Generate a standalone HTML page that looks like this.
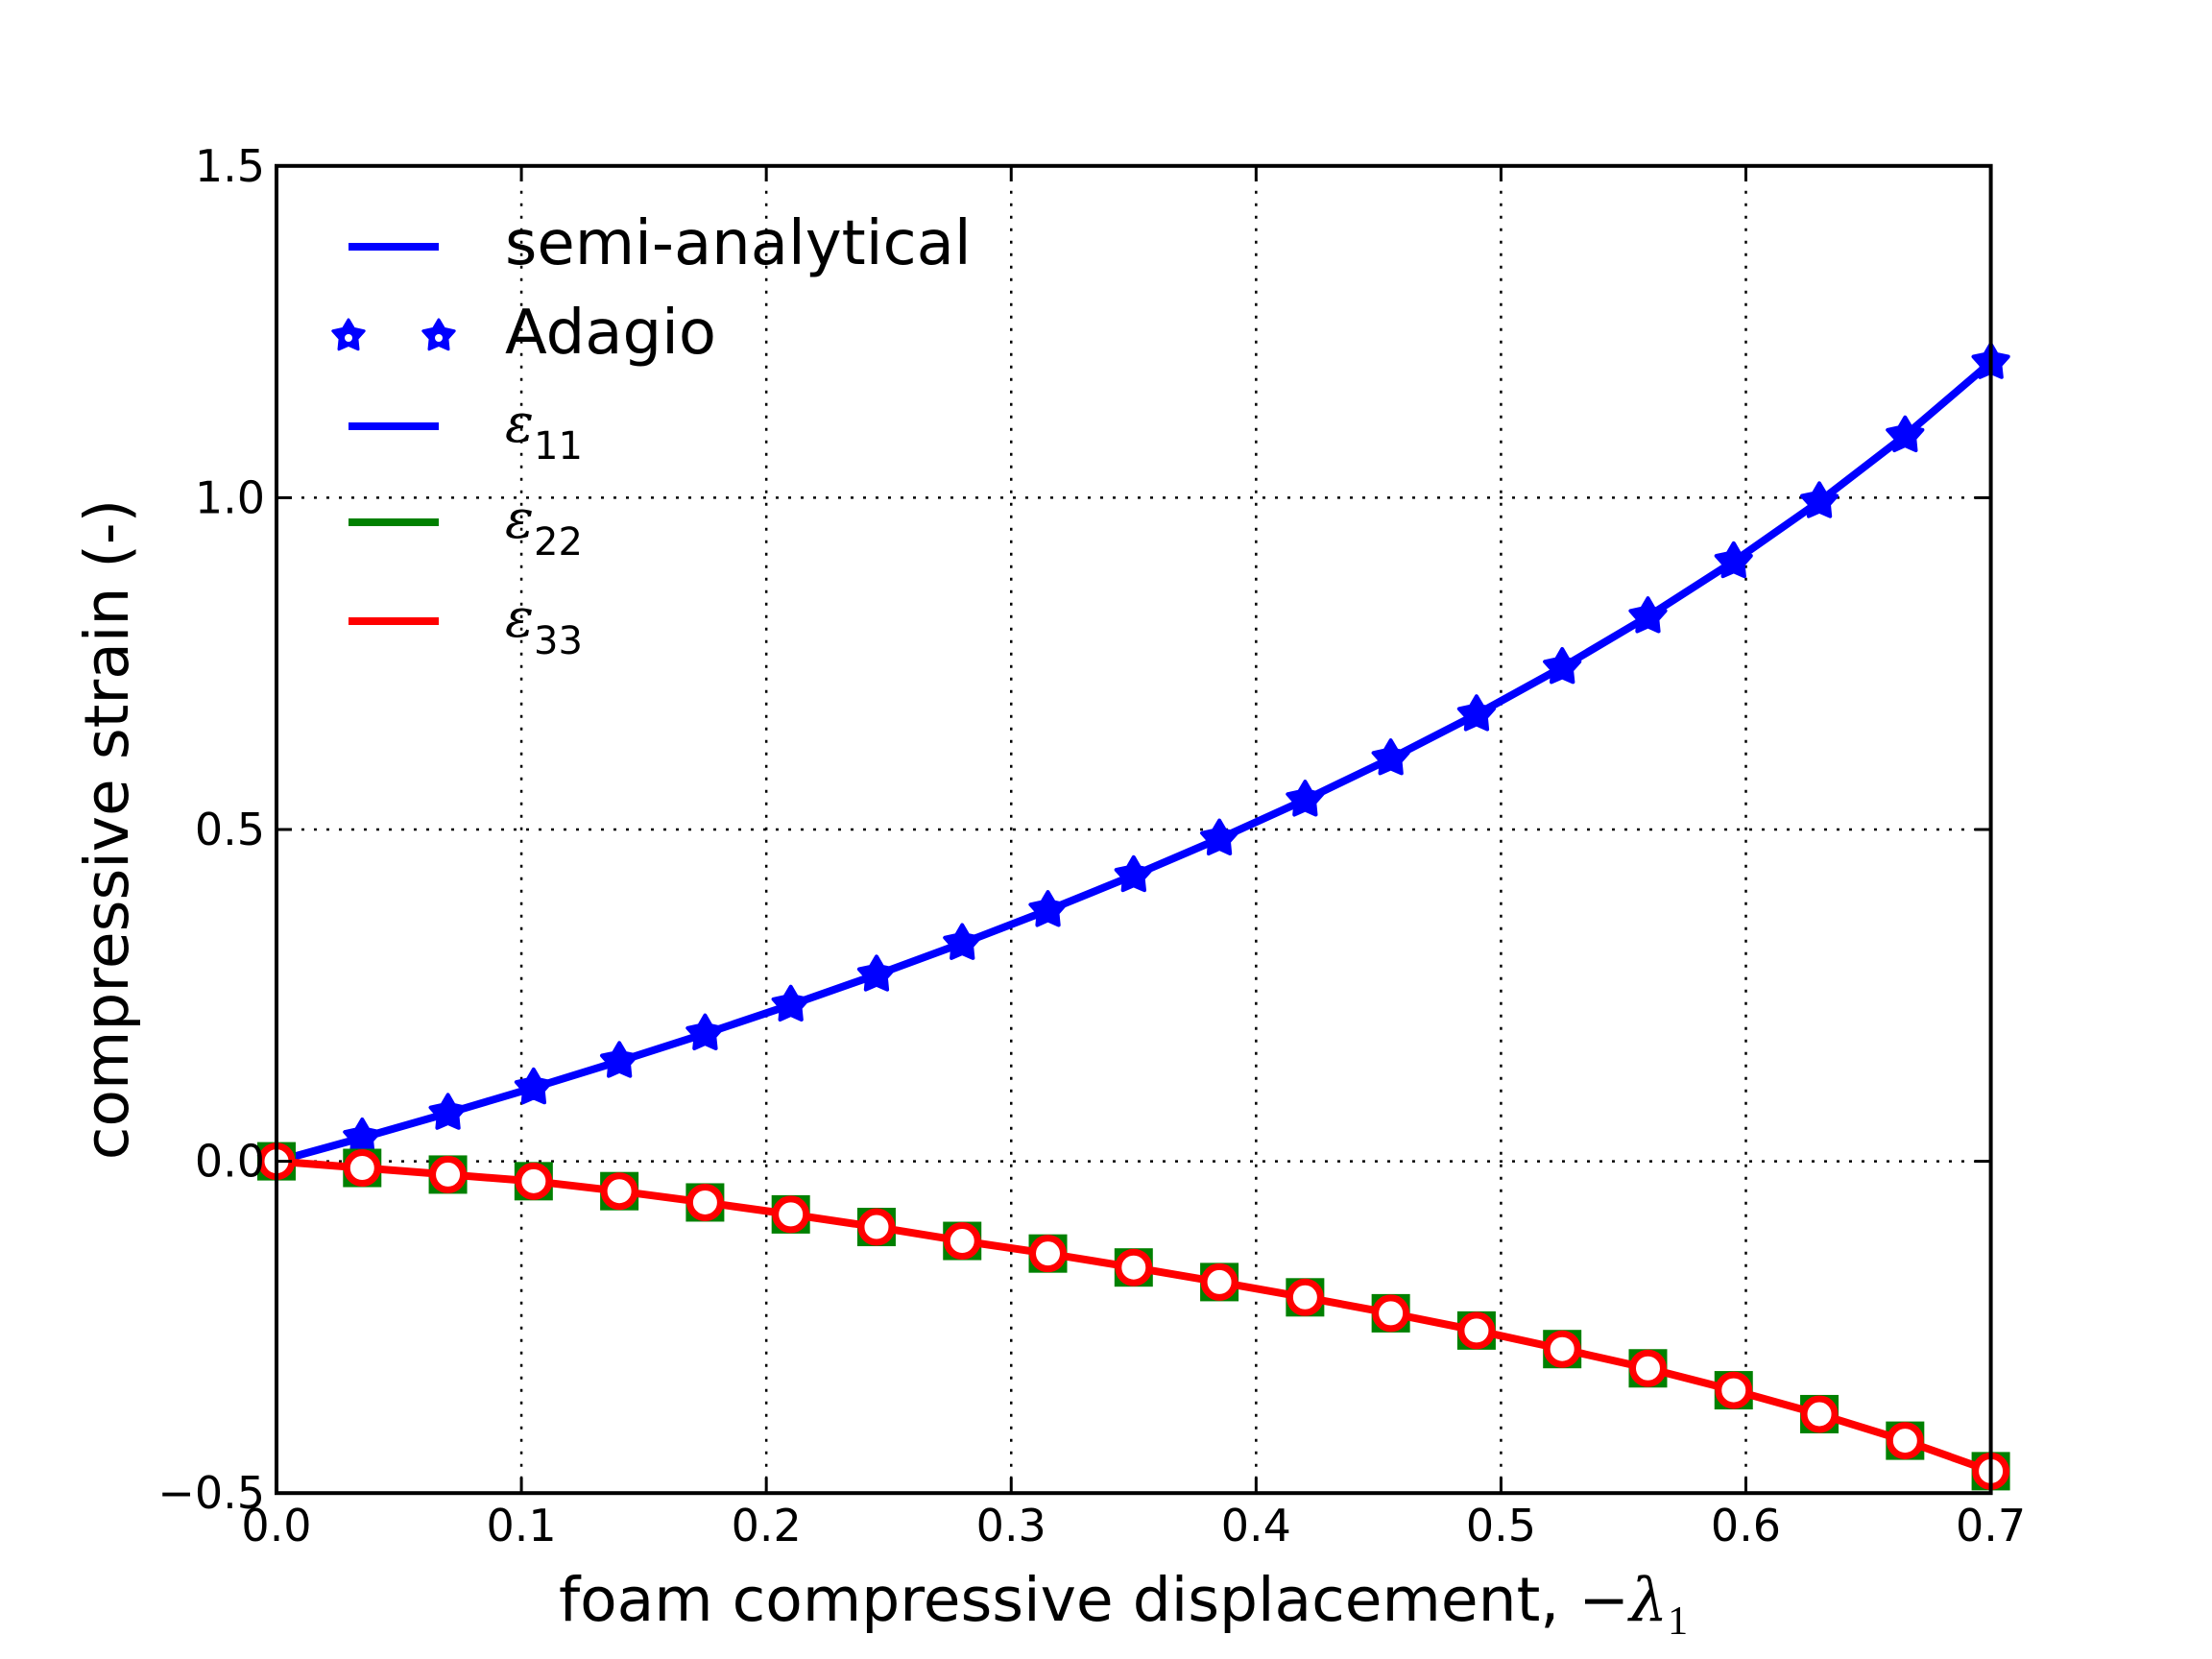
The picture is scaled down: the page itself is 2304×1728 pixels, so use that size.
<!DOCTYPE html>
<html><head><meta charset="utf-8"><style>
html,body{margin:0;padding:0;background:#fff;}
svg{display:block;}
text{font-family:"DejaVu Sans","Liberation Sans",sans-serif;}
.m{font-family:"DejaVu Serif","Liberation Serif",serif;font-style:italic;}
</style></head><body>
<svg id="s" width="2304" height="1728" xmlns="http://www.w3.org/2000/svg">
<rect width="2304" height="1728" fill="#fff"/>
<g id="grid" stroke="#000" stroke-width="2.5" stroke-dasharray="3 10" fill="none"></g>
<g id="data"></g>
<g id="legend">
<line x1="363" y1="257" x2="457" y2="257" stroke="#0000ff" stroke-width="8"/>
<text x="526" y="275" font-size="64">semi-analytical</text>
<text x="526" y="368" font-size="64">Adagio</text>
<line x1="363" y1="444" x2="457" y2="444" stroke="#0000ff" stroke-width="8"/>
<text x="526" y="460" font-size="56" class="m">ε</text><text x="556" y="478" font-size="40" font-family="Liberation Serif,serif">11</text>
<line x1="363" y1="544" x2="457" y2="544" stroke="#008000" stroke-width="8"/>
<text x="526" y="560" font-size="56" class="m">ε</text><text x="556" y="578" font-size="40" font-family="Liberation Serif,serif">22</text>
<line x1="363" y1="647" x2="457" y2="647" stroke="#ff0000" stroke-width="8"/>
<text x="526" y="663" font-size="56" class="m">ε</text><text x="556" y="681" font-size="40" font-family="Liberation Serif,serif">33</text>
</g>
<rect x="288" y="172.8" width="1785.6" height="1382.4" fill="none" stroke="#000" stroke-width="4"/>
<g id="ticks" stroke="#000" stroke-width="3"></g>
<g id="labels" font-size="46"></g>
<text x="1170" y="1688" font-size="63" text-anchor="middle">foam compressive displacement, <tspan font-family="DejaVu Serif,serif">−</tspan><tspan class="m">λ</tspan><tspan font-size="42" dy="14" font-family="Liberation Serif,serif">1</tspan></text>
<text transform="translate(133,864) rotate(-90)" font-size="63" text-anchor="middle">compressive strain (-)</text>
</svg>
<script>
var NS="http://www.w3.org/2000/svg";
function X(v){return 288+v/0.7*1785.6;}
function Y(v){return 1555.2-(v+0.5)*691.2;}
function el(p,t,a){var e=document.createElementNS(NS,t);for(var k in a)e.setAttribute(k,a[k]);p.appendChild(e);return e;}
var g=document.getElementById('grid'),tk=document.getElementById('ticks'),lb=document.getElementById('labels'),d=document.getElementById('data');
for(var i=1;i<7;i++){var x=X(i/10);el(g,'line',{x1:x,y1:172.8,x2:x,y2:1555.2});}
for(var j=1;j<4;j++){var y=Y(-0.5+j*0.5);el(g,'line',{x1:288,y1:y,x2:2073.6,y2:y});}
for(var i=0;i<=7;i++){var x=X(i/10);el(tk,'line',{x1:x,y1:1555,x2:x,y2:1539});el(tk,'line',{x1:x,y1:173,x2:x,y2:189});
 var t=el(lb,'text',{x:x,y:1605,'text-anchor':'middle'});t.textContent=(i/10).toFixed(1);}
for(var j=0;j<=4;j++){var v=-0.5+j*0.5,y=Y(v);el(tk,'line',{x1:288,y1:y,x2:304,y2:y});el(tk,'line',{x1:2073,y1:y,x2:2057,y2:y});
 var t=el(lb,'text',{x:276,y:y+16,'text-anchor':'end'});t.textContent=(v<0?'\u2212':'')+Math.abs(v).toFixed(1);}
var r=[0,-0.01,-0.02,-0.03,-0.045,-0.062,-0.08,-0.099,-0.12,-0.139,-0.16,-0.182,-0.205,-0.229,-0.255,-0.283,-0.312,-0.345,-0.381,-0.421,-0.467];
var pb=[],pr=[];
for(var k=0;k<=20;k++){var xv=k*0.035;pb.push(X(xv)+','+Y(-Math.log(1-xv)));pr.push(X(xv)+','+Y(r[k]));}
el(d,'polyline',{points:pb.join(' '),fill:'none',stroke:'#0000ff','stroke-width':8,'stroke-linejoin':'round'});
function star(cx,cy,R){var p=[];for(var q=0;q<10;q++){var a=-Math.PI/2+q*Math.PI/5,rr=q%2?R*0.55:R;p.push((cx+rr*Math.cos(a)).toFixed(1)+','+(cy+rr*Math.sin(a)).toFixed(1));}return p.join(' ');}
for(var k=0;k<=20;k++){var xv=k*0.035;el(d,'polygon',{points:star(X(xv),Y(-Math.log(1-xv)),19),fill:'#0000ff',stroke:'#0000ff','stroke-width':4,'stroke-linejoin':'round'});}
for(var k=0;k<=20;k++){var xv=k*0.035;el(d,'rect',{x:X(xv)-20,y:Y(r[k])-20,width:40,height:40,fill:'#008000'});}
el(d,'polyline',{points:pr.join(' '),fill:'none',stroke:'#ff0000','stroke-width':8,'stroke-linejoin':'round'});
for(var k=0;k<=20;k++){var xv=k*0.035;el(d,'circle',{cx:X(xv),cy:Y(r[k]),r:16,fill:'#fff',stroke:'#ff0000','stroke-width':7});}
var ls=document.getElementById('legend');
el(ls,'polygon',{points:star(363,350,17),fill:'#0000ff',stroke:'#0000ff','stroke-width':3,'stroke-linejoin':'round'});el(ls,'polygon',{points:star(457,350,17),fill:'#0000ff',stroke:'#0000ff','stroke-width':3,'stroke-linejoin':'round'});
el(ls,'circle',{cx:363,cy:352,r:4,fill:'#fff'});el(ls,'circle',{cx:457,cy:352,r:4,fill:'#fff'});
</script>
</body></html>
